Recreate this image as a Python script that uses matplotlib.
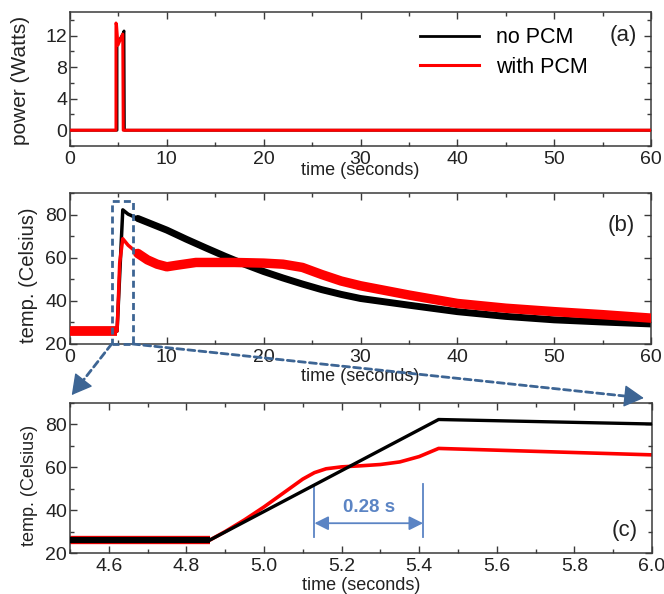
import matplotlib
matplotlib.use('Agg')
import matplotlib.pyplot as plt
from matplotlib.ticker import MultipleLocator, FormatStrFormatter
from matplotlib.patches import Rectangle, FancyArrowPatch

plt.rcParams['font.family'] = ['Liberation Sans', 'DejaVu Sans']

# ---------------- data ----------------
# (a) heater power (W) vs time (s)
pow_t_nopcm = [0, 4.86, 4.86, 5.0, 5.45, 5.58, 5.62, 60]
pow_nopcm = [0, 0, 10.8, 11.2, 12.2, 12.6, 0, 0]
pow_t_pcm = [0, 4.75, 4.75, 4.80, 4.95, 5.45, 5.50, 60]
pow_pcm = [0, 0, 13.6, 13.4, 10.8, 12.2, 0, 0]

# (b) temperature (C) vs time (s), full record
temp_t_nopcm = [0, 4.86, 5.45, 6, 7, 8, 10, 12, 14, 16, 18, 20, 22, 24, 26,
                28, 30, 35, 40, 45, 50, 55, 60]
temp_nopcm = [26, 26, 82.2, 80.2, 78.2, 76.4, 72.8, 68.6, 64.6, 60.7, 57.0,
              53.6, 50.6, 47.8, 45.2, 43.0, 41.1, 38.0, 35.0, 32.8, 31.2,
              30.2, 29.3]
temp_t_pcm = [0, 4.86, 5.0, 5.13, 5.45, 6, 7, 8, 9, 10, 11, 13, 17, 20, 22,
              24, 26, 28, 30, 35, 40, 45, 50, 55, 60]
temp_pcm = [26, 26, 41.5, 57.5, 68.8, 65.8, 62.0, 59.0, 57.0, 55.8, 56.5,
            57.8, 57.8, 57.5, 57.0, 55.5, 52.2, 49.2, 47.0, 42.7, 38.8, 36.6,
            35.0, 33.6, 32.0]

# (c) zoom on the heating pulse
zoom_t_nopcm = [4.5, 4.86, 5.45, 6.0]
zoom_nopcm = [26, 26, 82.3, 80.2]
zoom_t_pcm = [4.5, 4.86, 4.90, 4.95, 5.0, 5.05, 5.10, 5.13, 5.16, 5.20, 5.25,
              5.30, 5.35, 5.40, 5.45, 6.0]
zoom_pcm = [26, 26, 30.0, 35.5, 41.5, 48.0, 54.5, 57.5, 59.3, 60.2, 60.7,
            61.3, 62.5, 65.0, 68.8, 65.8]

delay_start, delay_end = 5.13, 5.41
delay_label = '0.28 s'
legend_labels = ['no PCM', 'with PCM']
panel_labels = ['(a)', '(b)', '(c)']
xlabel = 'time (seconds)'
ylabels = ['power (Watts)', 'temp. (Celsius)', 'temp. (Celsius)']

# ---------------- styling ----------------
BLACK = '#000000'
RED = '#ff0000'
DASH_BLUE = '#3d6594'
NOTE_BLUE = '#5b84c4'
SPINE = '#3a3a3a'
TXT = '#222222'

fig = plt.figure(figsize=(6.64, 5.94), dpi=100)
W, H = 664, 594


def make_ax(l, t, r, b):
    return fig.add_axes([l / W, 1 - b / H, (r - l) / W, (b - t) / H])


axa = make_ax(70, 12, 651, 146)
axb = make_ax(70, 193, 651, 344)
axc = make_ax(70, 403, 652, 553)


def style(ax, xmaj, xmin, ymaj, ymin, ylabel, ylab_pos, ylab_size, xlab_y):
    for s in ax.spines.values():
        s.set_color(SPINE)
        s.set_linewidth(1.1)
    ax.xaxis.set_major_locator(MultipleLocator(xmaj))
    ax.xaxis.set_minor_locator(MultipleLocator(xmin))
    ax.yaxis.set_major_locator(MultipleLocator(ymaj))
    ax.yaxis.set_minor_locator(MultipleLocator(ymin))
    ax.tick_params(which='both', direction='in', top=True, right=True,
                   color=SPINE, width=1.0, labelcolor=TXT, labelsize=14)
    ax.tick_params(which='major', length=5, pad=3.5)
    ax.tick_params(which='minor', length=3)
    ax.tick_params(axis='y', pad=2)
    ax.set_xlabel(xlabel, fontsize=13, color=TXT, va='center')
    ax.xaxis.set_label_coords(0.5, xlab_y)
    ax.set_ylabel(ylabel, fontsize=ylab_size, color=TXT, va='center')
    ax.yaxis.set_label_coords(ylab_pos[0], ylab_pos[1])


# ---- (a) ----
la, = axa.plot(pow_t_nopcm, pow_nopcm, color=BLACK, lw=2.0, zorder=2)
lb, = axa.plot(pow_t_pcm, pow_pcm, color=RED, lw=2.2, zorder=3)
axa.set_xlim(0, 60)
axa.set_ylim(-2, 15)
style(axa, 10, 5, 4, 2, ylabels[0], (-0.085, 0.49), 15, -0.18)
axa.legend([la, lb], legend_labels, loc='center left',
           bbox_to_anchor=(0.602, 0.698), frameon=False, fontsize=15.5,
           handlelength=2.75, handletextpad=0.8, labelspacing=0.4,
           borderpad=0, borderaxespad=0)
axa.text(0.952, 0.828, panel_labels[0], transform=axa.transAxes,
         fontsize=16, color=TXT, ha='center', va='center')

# ---- (b) ----
# thin trace everywhere plus wide "noise" band on the slow parts
axb.plot(temp_t_nopcm, temp_nopcm, color=BLACK, lw=2.5, zorder=2)
axb.plot(temp_t_nopcm[:2], temp_nopcm[:2], color=BLACK, lw=6,
         solid_capstyle='butt', zorder=2)
axb.plot(temp_t_nopcm[4:], temp_nopcm[4:], color=BLACK, lw=5.0,
         solid_capstyle='round', solid_joinstyle='round', zorder=2)
axb.plot(temp_t_pcm, temp_pcm, color=RED, lw=2.5, zorder=3)
axb.plot(temp_t_pcm[:2], temp_pcm[:2], color=RED, lw=7,
         solid_capstyle='butt', zorder=3)
axb.plot(temp_t_pcm[6:], temp_pcm[6:], color=RED, lw=6.8,
         solid_capstyle='round', solid_joinstyle='round', zorder=3)
axb.set_xlim(0, 60)
axb.set_ylim(20, 90)
style(axb, 10, 5, 20, 10, ylabels[1], (-0.072, 0.457), 14.5, -0.212)
axb.text(0.948, 0.788, panel_labels[1], transform=axb.transAxes,
         fontsize=16, color=TXT, ha='center', va='center')

# dashed zoom window
win_x0, win_x1 = zoom_t_nopcm[0] - 0.2, zoom_t_nopcm[-1] + 0.47
win_top = 86.4
axb.add_patch(Rectangle((win_x0, 20), win_x1 - win_x0, win_top - 20,
                        fill=False, ec=DASH_BLUE, lw=2.0,
                        ls=(0, (2.5, 1.5)), clip_on=False, zorder=5))

# ---- (c) ----
axc.plot(zoom_t_pcm, zoom_pcm, color=RED, lw=2.6, zorder=2)
axc.plot(zoom_t_pcm[:2], zoom_pcm[:2], color=RED, lw=6,
         solid_capstyle='butt', zorder=2)
axc.plot(zoom_t_nopcm, zoom_nopcm, color=BLACK, lw=2.4, zorder=3)
axc.plot(zoom_t_nopcm[:2], zoom_nopcm[:2], color=BLACK, lw=4.5,
         solid_capstyle='butt', zorder=3)
axc.set_xlim(4.5, 6.0)
axc.set_ylim(20, 90)
style(axc, 0.2, 0.1, 20, 10, ylabels[2], (-0.069, 0.453), 13, -0.22)
axc.xaxis.set_major_formatter(FormatStrFormatter('%.1f'))
axc.text(0.953, 0.153, panel_labels[2], transform=axc.transAxes,
         fontsize=16, color=TXT, ha='center', va='center')

# delay annotation
axc.plot([delay_start, delay_start], [27.7, 51.8], color=NOTE_BLUE, lw=1.3)
axc.plot([delay_end, delay_end], [27.7, 52.0], color=NOTE_BLUE, lw=1.3)
axc.annotate('', xy=(delay_end, 33.9), xytext=(delay_start, 33.9),
             arrowprops=dict(arrowstyle='<|-|>,head_length=0.7,head_width=0.35',
                             color=NOTE_BLUE, lw=1.3, shrinkA=0, shrinkB=0,
                             mutation_scale=12))
axc.text((delay_start + delay_end) / 2, 41, delay_label, color=NOTE_BLUE,
         fontsize=13.5, fontweight='bold', ha='center', va='center')

# ---- connecting dashed arrows ----
inv = fig.transFigure.inverted()


def fig_pt(trans, xy):
    return inv.transform(trans.transform(xy))


def dashed_arrow(p0, p1):
    x0, y0 = p0
    x1, y1 = p1
    fig.add_artist(FancyArrowPatch((x0, y0), (x1, y1),
                                   transform=fig.transFigure,
                                   arrowstyle='-', color=DASH_BLUE, lw=2.0,
                                   ls=(0, (2.5, 1.5)), shrinkA=0, shrinkB=6))
    f = 0.97
    fig.add_artist(FancyArrowPatch((x0 + f * (x1 - x0), y0 + f * (y1 - y0)),
                                   (x1, y1), transform=fig.transFigure,
                                   arrowstyle='-|>,head_length=0.9,head_width=0.5',
                                   color=DASH_BLUE, lw=1.0, shrinkA=0,
                                   shrinkB=0, mutation_scale=14))


dashed_arrow(fig_pt(axb.transData, (win_x0, 20)),
             fig_pt(axc.transAxes, (0.003, 1.053)))
dashed_arrow(fig_pt(axb.transData, (win_x1, 20)),
             fig_pt(axc.transAxes, (0.986, 1.033)))

fig.savefig('out.png', dpi=100)
